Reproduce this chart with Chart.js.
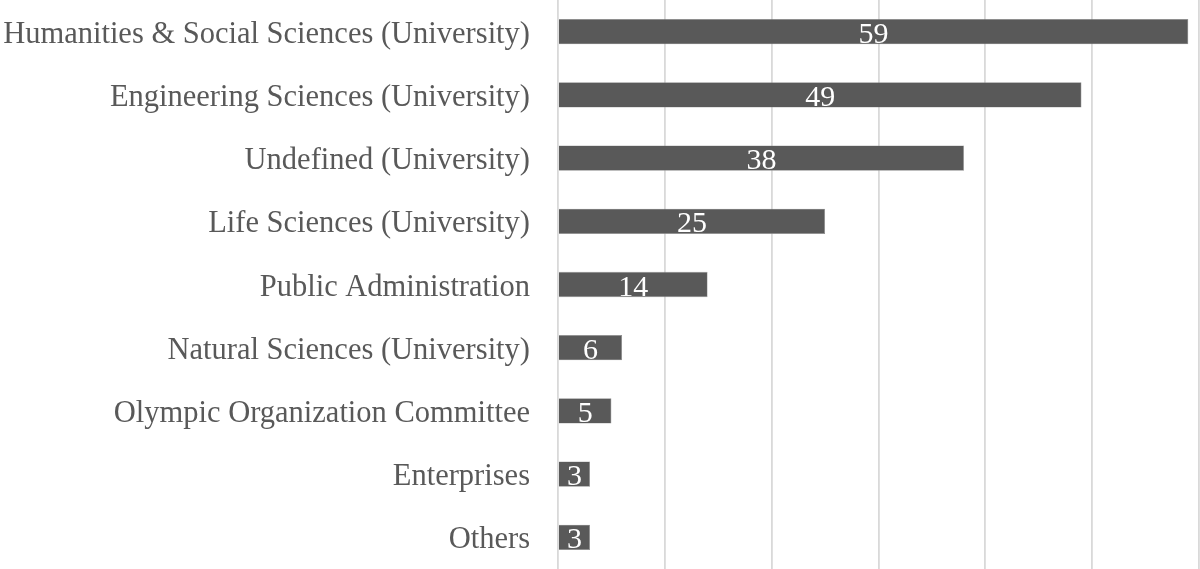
<!DOCTYPE html>
<html>
<head>
  <meta charset="UTF-8">
  <title>Institutions</title>
  <script src="https://cdn.jsdelivr.net/npm/chart.js"></script>
  <style>
    body { margin: 0; background: #fff; }
    #wrap { width: 1200px; height: 569px; position: relative; }
  </style>
</head>
<body>
  <div id="wrap"><canvas id="bars"></canvas></div>

  <script>
    const categories = [
      'Humanities & Social Sciences (University)',
      'Engineering Sciences (University)',
      'Undefined (University)',
      'Life Sciences (University)',
      'Public Administration',
      'Natural Sciences (University)',
      'Olympic Organization Committee',
      'Enterprises',
      'Others'
    ];
    const counts = [59, 49, 38, 25, 14, 6, 5, 3, 3];
    const axisMax = 60;
    const gridStep = 10;

    const serif = "'Liberation Serif', 'Times New Roman', serif";

    // draw the value in the middle of each bar
    const valueLabels = {
      id: 'valueLabels',
      afterDatasetsDraw(chart) {
        const ctx = chart.ctx;
        const meta = chart.getDatasetMeta(0);
        ctx.save();
        ctx.fillStyle = '#ffffff';
        ctx.font = '30px ' + serif;
        ctx.textAlign = 'center';
        ctx.textBaseline = 'alphabetic';
        meta.data.forEach((bar, i) => {
          const cx = (bar.x + bar.base) / 2;
          ctx.fillText(String(counts[i]), cx, bar.y + 11);
        });
        ctx.restore();
      }
    };

    const ctx = document.getElementById('bars').getContext('2d');
    new Chart(ctx, {
      type: 'bar',
      data: {
        labels: categories,
        datasets: [{
          data: counts,
          backgroundColor: '#595959',
          borderColor: '#8c8c8c',
          borderWidth: 0.6,
          barPercentage: 0.8,
          categoryPercentage: 0.5
        }]
      },
      plugins: [valueLabels],
      options: {
        indexAxis: 'y',
        responsive: true,
        maintainAspectRatio: false,
        animation: false,
        layout: { padding: { top: 0, bottom: 0, left: 0, right: 1 } },
        plugins: {
          legend: { display: false },
          tooltip: { enabled: false }
        },
        scales: {
          x: {
            min: 0,
            max: axisMax,
            ticks: { display: false, stepSize: gridStep },
            grid: { color: '#d9d9d9', lineWidth: 1.8, drawTicks: false },
            border: { display: false }
          },
          y: {
            grid: { display: false, drawTicks: false },
            border: { display: false },
            ticks: {
              color: '#595959',
              padding: 28,
              labelOffset: 3,
              font: { family: serif, size: 30.5 }
            },
            afterFit(scale) {
              scale.width = 558;
              scale.paddingTop = 0;
              scale.paddingBottom = 0;
            }
          }
        }
      }
    });
  </script>
</body>
</html>
